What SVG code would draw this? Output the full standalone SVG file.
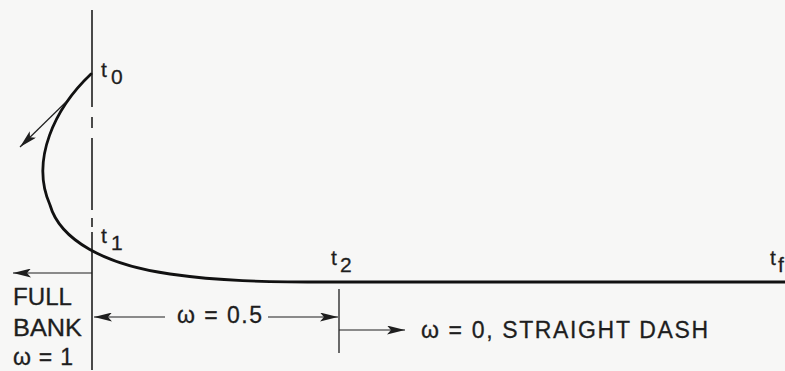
<svg xmlns="http://www.w3.org/2000/svg" width="785" height="371" viewBox="0 0 785 371">
<style>
.bg{fill:#f7f7f6}
.txt{font-family:"Liberation Sans",Arial,sans-serif;fill:#1e1e1e;font-size:23px;stroke:#1e1e1e;stroke-width:0.3}
.tl{font-family:"Liberation Sans",Arial,sans-serif;fill:#1e1e1e;font-size:21px;stroke:#1e1e1e;stroke-width:0.3}
.ax{stroke:#1e1e1e;stroke-width:1.6;fill:none}
.dim{stroke:#1e1e1e;stroke-width:1.2;fill:none;marker-end:url(#ah)}
.path{stroke:#111;stroke-width:2.8;fill:none;stroke-linecap:round}
</style>
<defs>
<marker id="ah" markerUnits="userSpaceOnUse" markerWidth="18" markerHeight="9" viewBox="0 0 18 9" refX="18" refY="4.5" orient="auto">
<path d="M0,0 L18,4.5 L0,9 L4,4.5 z" fill="#1e1e1e"/>
</marker>
</defs>
<rect class="bg" x="0" y="0" width="785" height="371"/>
<g id="axis">
<path class="ax" d="M92,10 V107 M92,117 V128 M92,138 V210 M92,218 V227 M92,232 V370"/>
</g>
<g id="trajectory">
<path class="path" d="M91,74 C55,108 30,160 50,205 C60,240 105,265 170,274 C220,281 260,282 330,282 L785,282"/>
</g>
<g id="connectors">
<line class="dim" x1="66" y1="102" x2="20" y2="147"/>
<line class="dim" x1="92" y1="273" x2="13" y2="273"/>
<line class="dim" x1="165" y1="317" x2="94" y2="317"/>
<line class="dim" x1="268" y1="317" x2="338" y2="317"/>
<line class="ax" x1="339" y1="289" x2="339" y2="353" style="stroke-width:1.3"/>
<line class="dim" x1="339" y1="330" x2="405" y2="330"/>
</g>
<g id="t0"><text class="tl" x="101" y="77">t</text><text class="tl" x="111" y="84">0</text></g>
<g id="t1"><text class="tl" x="101" y="243">t</text><text class="tl" x="111" y="250">1</text></g>
<g id="t2"><text class="tl" x="331" y="265">t</text><text class="tl" x="340" y="272">2</text></g>
<g id="tf"><text class="tl" x="770" y="265">t</text><text class="tl" x="778" y="272">f</text></g>
<g id="fullbank">
<text class="txt" x="13" y="305" textLength="59" lengthAdjust="spacingAndGlyphs">FULL</text>
<text class="txt" x="13" y="336" textLength="69" lengthAdjust="spacingAndGlyphs">BANK</text>
<text class="txt" x="13" y="365" textLength="60" lengthAdjust="spacing">ω = 1</text>
</g>
<g id="w05"><text class="txt" x="177" y="323" textLength="85" lengthAdjust="spacing">ω = 0.5</text></g>
<g id="w0"><text class="txt" x="421" y="338" textLength="287" lengthAdjust="spacing">ω = 0, STRAIGHT DASH</text></g>
</svg>
